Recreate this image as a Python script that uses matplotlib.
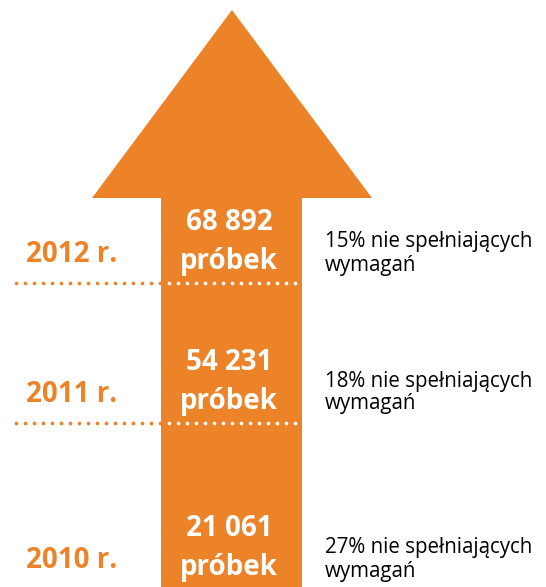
import matplotlib.pyplot as plt
from matplotlib.patches import Polygon

# data
years = ['2012 r.', '2011 r.', '2010 r.']
samples = ['68 892', '54 231', '21 061']
not_ok = [15, 18, 27]

orange = '#EC8329'
plt.rcParams['font.family'] = ['Open Sans', 'DejaVu Sans']

fig = plt.figure(figsize=(5.46, 5.87), dpi=100)
ax = fig.add_axes([0, 0, 1, 1])
ax.set_xlim(0, 546)
ax.set_ylim(587, 0)
ax.axis('off')

# arrow
arrow = Polygon([(161, 587), (161, 198), (92, 198), (232, 10), (372, 198),
                 (302, 198), (302, 587)], closed=True, color=orange, lw=0)
ax.add_patch(arrow)

row_y = [242, 381, 548]
for i in range(len(years)):
    y = row_y[i]
    ax.text(72, y + 13, years[i], color=orange, fontsize=20, fontweight='bold',
            ha='center', va='center')
    ax.text(229, y - 19, samples[i], color='white', fontsize=20, fontweight='bold',
            ha='center', va='center')
    ax.text(229, y + 20, 'próbek', color='white', fontsize=20, fontweight='bold',
            ha='center', va='center')
    ax.text(325, y, '%d%% nie spełniających' % not_ok[i], color='black',
            fontsize=14.8, ha='left', va='center')
    ax.text(325, y + 23, 'wymagań', color='black', fontsize=14.8,
            ha='left', va='center')

# dotted separators
for y in [283, 423]:
    xs_out = list(range(16, 161, 9))
    xs_in = list(range(xs_out[-1] + 9, 302, 9))
    ax.scatter(xs_out, [y] * len(xs_out), s=7, color=orange, lw=0)
    ax.scatter(xs_in, [y] * len(xs_in), s=7, color='white', lw=0)

fig.savefig('out.png', dpi=100)
